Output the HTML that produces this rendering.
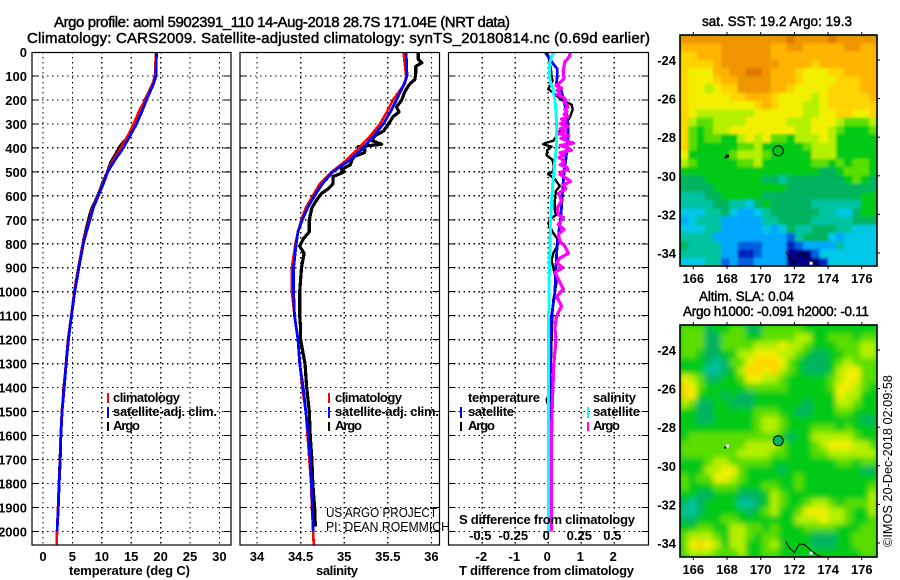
<!DOCTYPE html>
<html>
<head>
<meta charset="utf-8">
<title>Argo profile</title>
<style>
html,body{margin:0;padding:0;background:#fff;}
svg{display:block;}
text{font-family:"Liberation Sans",sans-serif;fill:#000;}
.b{font-weight:bold;font-size:13px;}
.t{font-size:15px;stroke:#000;stroke-width:.45px;}
.m{font-size:13.5px;stroke:#000;stroke-width:.45px;}
.r{font-size:13px;font-weight:normal;}
</style>
</head>
<body>
<svg id="chart" xmlns="http://www.w3.org/2000/svg" width="900" height="580" viewBox="0 0 900 580">
<defs>
<clipPath id="clip-map1"><rect x="680" y="35" width="197" height="231"/></clipPath>
<clipPath id="clip-map2"><rect x="680" y="325" width="197" height="232"/></clipPath>
<clipPath id="clip-p1"><rect x="32" y="52" width="199" height="493"/></clipPath>
<clipPath id="clip-p2"><rect x="240" y="52" width="200" height="493"/></clipPath>
<clipPath id="clip-p3"><rect x="448" y="52" width="200" height="493"/></clipPath>
<filter id="blur1" x="-5%" y="-5%" width="110%" height="110%"><feGaussianBlur stdDeviation="1.2"/></filter>
<filter id="blur2" x="-5%" y="-5%" width="110%" height="110%"><feGaussianBlur stdDeviation="3"/></filter>
</defs>

<text class="t" x="54" y="27" textLength="456" lengthAdjust="spacing">Argo profile: aoml 5902391_110 14-Aug-2018 28.7S 171.04E (NRT data)</text>
<text class="t" x="27" y="43" textLength="623" lengthAdjust="spacing">Climatology: CARS2009. Satellite-adjusted climatology: synTS_20180814.nc (0.69d earlier)</text>

<g id="p1"></g>
<g id="p2"></g>
<g id="p3"></g>
<g id="map1"></g>
<g id="map2"></g>

<text class="b" x="69" y="575" textLength="121" lengthAdjust="spacing">temperature (deg C)</text>
<text class="b" x="316" y="575" textLength="42" lengthAdjust="spacing">salinity</text>
<text class="b" x="459" y="575" textLength="175" lengthAdjust="spacing">T difference from climatology</text>
<text class="b" x="459" y="524" textLength="176" lengthAdjust="spacing">S difference from climatology</text>

<g>
<rect x="107" y="393" width="2" height="10" fill="#f00"/>
<text class="b" x="113" y="402" textLength="67" lengthAdjust="spacing">climatology</text>
<rect x="107" y="407" width="2" height="11" fill="#00f"/>
<text class="b" x="113" y="416" textLength="104" lengthAdjust="spacing">satellite-adj. clim.</text>
<rect x="107" y="422" width="2" height="9" fill="#000"/>
<text class="b" x="113" y="430" textLength="27" lengthAdjust="spacing">Argo</text>
</g>
<g>
<rect x="328" y="393" width="2" height="10" fill="#f00"/>
<text class="b" x="335" y="402" textLength="67" lengthAdjust="spacing">climatology</text>
<rect x="328" y="407" width="2" height="11" fill="#00f"/>
<text class="b" x="335" y="416" textLength="104" lengthAdjust="spacing">satellite-adj. clim.</text>
<rect x="328" y="422" width="2" height="9" fill="#000"/>
<text class="b" x="335" y="430" textLength="27" lengthAdjust="spacing">Argo</text>
</g>
<g>
<text class="b" x="468" y="402" textLength="72" lengthAdjust="spacing">temperature</text>
<rect x="460" y="407" width="2" height="11" fill="#00f"/>
<text class="b" x="468" y="416" textLength="46" lengthAdjust="spacing">satellite</text>
<rect x="460" y="422" width="2" height="9" fill="#000"/>
<text class="b" x="468" y="430" textLength="27" lengthAdjust="spacing">Argo</text>
<text class="b" x="593" y="402" textLength="43" lengthAdjust="spacing">salinity</text>
<rect x="587" y="407" width="2" height="11" fill="#0ff"/>
<text class="b" x="593" y="416" textLength="47" lengthAdjust="spacing">satellite</text>
<rect x="587" y="422" width="2" height="9" fill="#f0f"/>
<text class="b" x="593" y="430" textLength="27" lengthAdjust="spacing">Argo</text>
</g>

<text class="r" x="326" y="517" textLength="111" lengthAdjust="spacingAndGlyphs">US ARGO PROJECT</text>
<text class="r" x="326" y="531" textLength="124" lengthAdjust="spacingAndGlyphs">PI: DEAN ROEMMICH</text>

<text class="m" x="702" y="26" textLength="150" lengthAdjust="spacing">sat. SST: 19.2 Argo: 19.3</text>
<text class="m" x="699" y="301" textLength="95" lengthAdjust="spacing">Altim. SLA: 0.04</text>
<text class="m" x="683" y="316" textLength="186" lengthAdjust="spacing">Argo h1000: -0.091 h2000: -0.11</text>
<text class="r" transform="translate(892,547) rotate(-90)" textLength="172" lengthAdjust="spacingAndGlyphs">©IMOS 20-Dec-2018 02:09:58</text>
</svg>

<script>
// ---- profile data ----
const climDepth = [0,100,130,200,250,300,350,400,450,500,550,600,650,700,750,800,900,1000,1100,1200,1300,1400,1500,1600,1700,1800,1900,2000,2056];
const climT = [19.2,19.05,18.65,17.35,16.3,15.4,14.4,13.2,11.95,10.9,10.15,9.3,8.45,7.9,7.3,6.75,6.0,5.3,4.8,4.25,3.9,3.55,3.2,3.0,2.9,2.7,2.55,2.38,2.35];
const climS = [35.68,35.71,35.70,35.56,35.49,35.41,35.30,35.17,35.03,34.86,34.72,34.64,34.56,34.51,34.47,34.44,34.40,34.40,34.43,34.47,34.49,34.52,34.56,34.58,34.60,34.62,34.63,34.645,34.65];
const satDepth = [0,100,130,200,250,300,350,400,450,500,550,600,650,700,750,800,900,1000,1100,1200,1300,1400,1500,1600,1700,1800,1900,2000];
const satT = [19.3,19.2,18.85,17.6,16.8,15.9,14.8,13.65,12.25,11.0,10.25,9.4,8.55,8.0,7.4,6.85,6.1,5.4,4.85,4.3,3.95,3.6,3.25,3.05,2.95,2.75,2.6,2.4];
const satS = [35.71,35.72,35.69,35.60,35.53,35.45,35.34,35.22,35.07,34.87,34.75,34.66,34.58,34.52,34.47,34.45,34.42,34.42,34.43,34.47,34.49,34.53,34.56,34.59,34.61,34.625,34.635,34.645];
const argoTDepth = [0,100,130,170,200,240,270,300,330,360,385,400,430,460,500,540,580,620,650,680,730,780,850,900,1000,1100,1200,1300,1400,1500,1650,1800,1950];
const argoT = [19.3,19.1,18.7,17.9,17.3,16.7,16.1,15.7,15.0,14.2,13.3,12.9,12.2,11.5,10.9,10.2,9.6,8.9,8.3,7.9,7.4,6.9,6.4,6.1,5.4,4.85,4.35,3.95,3.5,3.25,2.95,2.7,2.5];
const argoSDepth = [0,30,45,60,90,115,130,150,170,200,230,250,270,300,330,350,370,385,395,410,420,435,450,470,490,500,510,520,550,570,590,620,650,700,750,780,810,840,900,950,1000,1050,1100,1150,1200,1300,1400,1500,1600,1700,1800,1900,1980];
const argoS = [35.85,35.85,35.89,35.82,35.82,35.81,35.76,35.72,35.69,35.66,35.60,35.63,35.56,35.51,35.45,35.35,35.32,35.43,35.16,35.24,35.23,35.12,35.09,35.07,34.97,35.0,34.94,34.87,34.87,34.82,34.74,34.68,34.63,34.60,34.60,34.53,34.49,34.54,34.51,34.50,34.49,34.49,34.49,34.50,34.50,34.55,34.57,34.60,34.61,34.63,34.64,34.66,34.67];

// ---- difference data ----
const diffSatTDepth = [0,20,50,70,100,130,150,200,250,300,350,400,450,500,550,600,650,700,800,900,1000,1100,1200,1300,1400,1500,1650,2000];
const diffSatT = [-0.10,0,0.15,0.27,0.27,0.25,0.37,0.47,0.54,0.60,0.60,0.57,0.53,0.48,0.45,0.42,0.40,0.37,0.27,0.23,0.20,0.10,0.07,0.07,0.05,0.04,0.03,0.03];
const diffSatSDepth = [0,20,50,100,130,150,200,250,300,350,400,450,500,550,600,650,700,800,900,1000,1100,2000];
const diffSatS = [0.043,0.025,0.008,0.008,0.018,0.033,0.05,0.058,0.063,0.063,0.061,0.05,0.043,0.033,0.028,0.023,0.018,0.013,0.008,0.005,0.003,0.002];
const diffArgoTDepth = [0,15,40,70,100,120,140,155,170,200,220,240,270,300,330,370,380,385,395,410,430,450,480,500,510,530,560,580,620,660,680,700,715,730,750,780,800,840,870,900,960,1000,1034,1100,1200,1300,1420,1450,1500,1652];
const diffArgoT = [-0.07,0,0.03,0.08,0.10,0.13,0.05,0,0.15,0.40,0.71,0.74,0.66,0.54,0.35,0.15,-0.10,-0.15,0.10,-0.03,-0.05,0.13,0.17,0.13,0,0.20,0.35,0.23,0.20,0.20,0.23,0.05,0,0.05,0.13,0.27,0.30,0.15,0.10,0.15,0.25,0.20,0.15,0.12,0.10,0.08,0.05,-0.05,0.05,0.03];
const diffArgoSDepth = [0,20,40,60,80,110,120,130,140,150,160,170,180,190,200,210,220,230,240,250,260,270,280,290,300,310,320,330,340,350,360,370,380,390,400,410,420,430,440,450,460,470,480,490,500,510,525,540,555,570,590,620,650,680,690,720,740,760,790,810,840,860,880,900,920,960,990,1020,1060,1100,1150,1200,1250,1300,1400,1500,1600,1800,2000];
const diffArgoS = [0.169,0.159,0.126,0.119,0.114,0.119,0.101,0.085,0.06,0.10,0.065,0.09,0.07,0.115,0.134,0.12,0.14,0.15,0.125,0.14,0.12,0.15,0.10,0.13,0.09,0.15,0.09,0.13,0.08,0.155,0.095,0.14,0.19,0.09,0.15,0.175,0.09,0.12,0.08,0.11,0.12,0.09,0.14,0.15,0.10,0.088,0.13,0.169,0.114,0.134,0.076,0.101,0.068,0.076,0.114,0.076,0.119,0.076,0.088,0.126,0.152,0.088,0.063,0.109,0.05,0.088,0.114,0.063,0.101,0.063,0.05,0.058,0.05,0.042,0.035,0.028,0.025,0.025,0.022];

// ---- axis ticks ----
const depthTicks = [0,100,200,300,400,500,600,700,800,900,1000,1100,1200,1300,1400,1500,1600,1700,1800,1900,2000];
const tempTicks = [0,5,10,15,20,25,30];
const salTicks = [34,34.5,35,35.5,36];
const salTickLabels = ['34','34.5','35','35.5','36'];
const tDiffTicks = [-2,-1,0,1,2];
const sDiffTicks = [-0.5,-0.25,0,0.25,0.5];
const sDiffTickLabels = ['-0.5','-0.25','0','0.25','0.5'];
const lonTicks = [166,168,170,172,174,176];
const latTicks = [-24,-26,-28,-30,-32,-34];

// ---- map data: colour-class level of each cell (24 cols × 28 rows, north to south) ----
const sstLevels = [
[13,13,13,13,13,13,13,13,13,13,13,13,13,14,13,13,13,13,14,13,13,13,13,13],
[12,12,12,12,12,13,13,13,13,13,13,12,12,13,13,12,12,12,12,12,13,13,12,12],
[11,11,12,12,12,13,13,13,13,13,13,12,12,12,12,12,12,12,12,12,12,12,12,12],
[11,11,11,11,12,13,13,13,13,13,13,13,12,12,12,12,11,12,12,12,12,12,12,12],
[11,10,10,10,12,12,13,13,14,14,13,12,12,12,11,10,10,10,11,11,12,12,12,12],
[11,10,10,10,11,12,12,13,13,13,13,12,12,12,11,10,10,10,10,11,11,11,12,12],
[11,10,10,9,10,11,11,13,13,13,13,12,12,11,10,10,10,10,11,11,11,11,12,12],
[11,10,10,10,10,10,11,11,12,12,12,11,10,10,10,10,9,10,11,11,11,11,11,12],
[11,10,10,10,10,10,10,10,10,11,12,11,10,10,10,9,9,10,11,11,11,11,11,11],
[11,10,9,9,9,9,9,9,9,10,10,10,10,10,10,9,9,10,10,11,11,10,10,11],
[11,9,8,8,9,9,9,9,10,10,10,10,10,9,9,9,10,10,10,9,8,8,8,9],
[11,8,7,8,9,9,10,10,10,10,10,10,10,10,9,9,10,10,9,8,7,7,7,8],
[11,8,7,8,8,7,7,9,10,9,10,8,8,7,9,9,9,10,9,7,7,7,7,7],
[11,8,7,7,7,7,7,8,8,9,7,7,7,7,7,8,9,9,9,7,7,7,7,7],
[10,7,7,7,7,7,8,9,9,9,8,7,7,7,7,7,9,9,9,7,7,7,7,7],
[9,8,7,7,7,7,7,8,8,9,7,7,7,7,7,7,8,8,7,8,7,8,8,7],
[7,7,7,7,7,7,7,7,7,7,7,7,7,7,7,7,7,6,6,7,8,8,8,7],
[6,6,6,7,7,7,7,7,7,7,6,6,5,6,6,6,6,6,6,6,7,8,7,6],
[6,6,6,6,7,7,7,7,7,7,7,7,7,6,6,6,6,6,6,6,6,6,6,6],
[5,5,5,6,6,7,7,7,7,7,6,6,6,6,6,6,6,6,6,6,6,6,7,7],
[5,5,5,5,6,6,5,5,4,6,7,6,6,6,6,6,5,5,5,5,5,5,7,7],
[4,4,4,5,5,6,4,3,3,4,5,6,6,6,6,6,6,5,5,4,4,6,7,7],
[3,4,5,5,5,3,3,3,3,3,5,5,6,6,6,6,5,5,5,5,5,6,6,6],
[4,4,4,5,5,3,3,3,3,3,4,3,4,6,5,5,6,6,6,5,5,4,4,4],
[5,5,5,5,3,3,3,3,3,3,3,3,3,2,5,6,6,6,4,3,4,4,4,4],
[6,5,5,5,5,3,3,2,2,2,3,3,3,1,2,3,3,3,3,5,4,4,4,4],
[5,5,5,5,5,3,3,1,1,2,3,3,3,0,0,0,2,4,4,4,4,4,4,4],
[4,4,4,5,5,2,3,2,2,3,3,3,3,0,0,0,0,1,4,4,4,4,4,4]
];
const slaLevels = [
[8,8,8,6,7,7,8,8,6,6,8,8,8,8,8,7,7,7,7,7,7,7,7,7],
[8,8,8,6,6,8,8,8,7,7,8,8,8,8,9,9,7,7,8,8,8,7,8,8],
[8,8,8,6,6,8,8,8,8,9,9,9,10,9,9,8,7,7,7,8,8,8,9,9],
[8,8,7,6,6,7,7,9,9,10,10,10,9,9,8,7,6,6,7,7,8,8,9,9],
[7,7,7,6,5,6,8,8,10,11,11,11,10,8,7,6,6,6,7,8,9,8,8,8],
[7,7,7,5,5,6,7,9,11,11,10,11,9,8,7,6,6,6,7,9,10,10,8,8],
[10,9,8,6,6,7,7,8,10,10,9,9,8,7,7,7,7,7,8,9,10,10,8,8],
[11,10,8,7,7,7,7,7,8,8,8,8,8,7,7,7,7,7,8,10,10,9,8,7],
[11,10,7,7,7,6,7,6,6,7,7,7,7,7,7,7,7,7,7,10,9,9,7,7],
[9,8,6,6,7,7,6,6,6,7,7,7,7,7,7,6,7,7,7,9,9,8,7,7],
[7,7,6,6,7,7,7,7,7,8,8,8,7,7,6,6,7,7,7,8,8,7,7,7],
[7,7,6,6,7,7,7,7,7,8,9,9,8,7,7,7,7,7,7,7,7,7,6,6],
[7,7,7,7,7,7,7,7,7,8,9,9,8,7,7,7,8,8,8,7,8,7,7,7],
[7,8,8,8,8,8,8,8,8,8,8,8,7,6,7,7,9,9,9,9,9,8,7,7],
[8,8,8,8,8,8,8,8,9,9,9,9,8,7,7,7,8,9,10,10,10,9,9,8],
[8,8,8,8,8,8,8,9,9,9,9,8,8,7,7,7,8,8,9,9,9,9,9,9],
[7,7,7,8,9,9,8,8,8,8,8,7,7,7,7,7,7,7,7,8,8,7,8,8],
[7,7,7,9,9,10,10,8,7,7,7,7,6,7,7,7,7,7,7,7,7,7,6,6],
[8,7,8,8,10,10,9,8,7,7,7,7,7,7,8,7,7,7,7,7,7,7,7,7],
[8,7,7,7,8,8,8,7,7,7,8,8,7,7,8,7,7,7,7,7,7,7,7,8],
[7,7,6,6,7,7,7,6,6,6,7,9,8,7,7,7,7,7,7,7,7,7,7,9],
[6,5,6,7,7,7,7,5,5,6,7,9,8,7,7,8,9,9,8,7,8,8,8,9],
[5,5,6,7,7,7,7,7,6,7,8,9,7,7,8,10,10,10,9,9,8,7,7,9],
[6,6,7,7,7,8,8,7,7,7,7,7,7,7,9,9,9,10,9,9,8,7,7,8],
[7,7,8,8,7,7,9,9,8,8,7,8,7,7,7,8,8,8,8,7,7,7,8,8],
[8,9,9,9,8,7,9,9,8,7,8,8,7,7,7,7,6,6,6,7,7,8,8,8],
[8,10,11,10,9,7,9,9,7,7,8,9,7,7,7,7,6,6,6,7,7,8,8,8],
[8,9,9,9,8,8,8,9,7,7,8,8,7,7,7,7,7,7,7,7,7,7,8,8]
];
const coastLon = [171.5,171.7,172.0,172.3,172.6,173.0,173.4,173.7];
const coastLat = [-33.93,-34.25,-34.5,-34.05,-34.08,-34.4,-34.65,-34.72];
const floatLon = 171.04;
const floatLat = -28.7;

// ---- drawing ----
const SVGNS = 'http://www.w3.org/2000/svg';
const levelColors = ['#00008c','#0020c0','#0060e0','#00a8ff','#00c8e6','#00c3a0','#00b45f','#00ca14','#5ade00','#b4f000','#f2f000','#ffd400','#ffb400','#f09600','#e07800'];
const TOP = 52, BOTTOM = 545;
const yDepth = d => 52 + 0.2397 * d;
const xTemp = t => 43 + 5.88 * t;
const xSal = s => 257 + 87.2 * (s - 34);
const xTDiff = t => 548.3 + 33 * t;
const xSDiff = s => 548.3 + 132 * s;
const xLon = lon => 693.3 + 16.85 * (lon - 166);

function make(tag, parent, attrs, name) {
  const el = document.createElementNS(SVGNS, tag);
  for (const k in attrs) el.setAttribute(k, attrs[k]);
  
  
  parent.appendChild(el);
  return el;
}
function label(parent, x, y, str, anchor, name) {
  const el = make('text', parent, {x: x, y: y, 'text-anchor': anchor, class: 'b'}, name);
  el.textContent = str;
  return el;
}
function profile(parent, depths, vals, xFn, color, width, name) {
  const pts = depths.map((d, i) => xFn(vals[i]).toFixed(1) + ',' + yDepth(d).toFixed(1)).join(' ');
  make('polyline', parent, {points: pts, fill: 'none', stroke: color, 'stroke-width': width, 'stroke-linejoin': 'round', 'shape-rendering': 'crispEdges'}, name);
}
function frame(parent, x0, x1) {
  make('rect', parent, {x: x0, y: TOP + 0.5, width: x1 - x0, height: BOTTOM - TOP - 0.5, fill: 'none', stroke: '#000', 'stroke-width': 1.2}, 'plot-frame');
}
function grid(parent, x0, x1, xTicks, xFn) {
  depthTicks.forEach(d => {
    const y = yDepth(d);
    if (d > 0) {
      make('line', parent, {x1: x0, x2: x1, y1: y, y2: y, stroke: '#000', 'stroke-width': 1.3, 'stroke-dasharray': '1.4 3.6', 'shape-rendering': 'crispEdges'}, 'depth-gridline');
      make('line', parent, {x1: x0, x2: x0 + 7, y1: y, y2: y, stroke: '#000', 'stroke-width': 1, 'shape-rendering': 'crispEdges'}, 'depth-tick-left');
      make('line', parent, {x1: x1 - 7, x2: x1, y1: y, y2: y, stroke: '#000', 'stroke-width': 1, 'shape-rendering': 'crispEdges'}, 'depth-tick-right');
    }
  });
  xTicks.forEach(v => {
    const x = xFn(v);
    make('line', parent, {x1: x, x2: x, y1: TOP, y2: BOTTOM, stroke: '#000', 'stroke-width': 1.3, 'stroke-dasharray': '1.4 3.6', 'shape-rendering': 'crispEdges'}, 'value-gridline');
  });
}

// temperature panel
const p1 = document.getElementById('p1');
grid(p1, 32, 231, tempTicks, xTemp);
const g1 = make('g', p1, {'clip-path': 'url(#clip-p1)'}, 'temperature-series');
profile(g1, argoTDepth, argoT, xTemp, '#000', 2.6, 'argo-temperature-line');
profile(g1, climDepth, climT, xTemp, '#f00', 2.6, 'climatology-temperature-line');
profile(g1, satDepth, satT, xTemp, '#00f', 2.8, 'satellite-temperature-line');
frame(p1, 32, 231);
depthTicks.forEach(d => label(p1, 27, yDepth(d) + 5, String(d), 'end', 'depth-tick-label'));
tempTicks.forEach(t => label(p1, xTemp(t), 561, String(t), 'middle', 'temperature-tick-label'));

// salinity panel
const p2 = document.getElementById('p2');
grid(p2, 240, 439.5, salTicks, xSal);
const g2 = make('g', p2, {'clip-path': 'url(#clip-p2)'}, 'salinity-series');
profile(g2, argoSDepth, argoS, xSal, '#000', 3.2, 'argo-salinity-line');
profile(g2, climDepth, climS, xSal, '#f00', 2.6, 'climatology-salinity-line');
profile(g2, satDepth, satS, xSal, '#00f', 2.8, 'satellite-salinity-line');
frame(p2, 240, 439.5);
salTicks.forEach((s, i) => label(p2, xSal(s), 561, salTickLabels[i], 'middle', 'salinity-tick-label'));

// difference panel
const p3 = document.getElementById('p3');
grid(p3, 448.5, 648.5, tDiffTicks, xTDiff);
const g3 = make('g', p3, {'clip-path': 'url(#clip-p3)'}, 'difference-series');
profile(g3, diffArgoTDepth, diffArgoT, xTDiff, '#000', 2.4, 'argo-t-difference-line');
profile(g3, diffSatTDepth, diffSatT, xTDiff, '#00f', 2.8, 'satellite-t-difference-line');
profile(g3, diffArgoSDepth, diffArgoS, xSDiff, '#f0f', 3.2, 'argo-s-difference-line');
profile(g3, diffSatSDepth, diffSatS, xSDiff, '#0ff', 3, 'satellite-s-difference-line');
frame(p3, 448.5, 648.5);
tDiffTicks.forEach(t => label(p3, xTDiff(t) - 1, 561, String(t), 'middle', 't-difference-tick-label'));
sDiffTicks.forEach((s, i) => label(p3, xSDiff(s) - 2, 540, sDiffTickLabels[i], 'middle', 's-difference-tick-label'));

// maps
function drawMap(id, levels, top, bottom, lat24y, filterId, clipId, filled, bg) {
  const root = document.getElementById(id);
  const yLat = lat => lat24y + 19.3 * (-24 - lat);
  make('rect', root, {x: 680, y: top, width: 197, height: bottom - top, fill: bg}, 'map-background');
  const clip = make('g', root, {'clip-path': 'url(#' + clipId + ')'}, 'map-clip');
  const cells = make('g', clip, {filter: 'url(#' + filterId + ')'}, 'map-cells');
  const rows = levels.length, cols = levels[0].length;
  const cw = 197 / cols, ch = (bottom - top) / rows;
  levels.forEach((row, r) => row.forEach((v, c) => {
    make('rect', cells, {x: (680 + c * cw).toFixed(2), y: (top + r * ch).toFixed(2), width: (cw + 0.4).toFixed(2), height: (ch + 0.4).toFixed(2), fill: levelColors[v], 'shape-rendering': 'crispEdges'}, 'map-cell');
  }));
  const coastPts = coastLon.map((lon, i) => xLon(lon).toFixed(1) + ',' + yLat(coastLat[i]).toFixed(1)).join(' ');
  make('polyline', clip, {points: coastPts, fill: 'none', stroke: '#000', 'stroke-width': 1}, 'coastline');
  make('rect', clip, {x: xLon(172.9), y: yLat(-34.45), width: 3, height: 3, fill: '#fff'}, 'island-mask');
  make('rect', clip, {x: xLon(167.9) + 0.5, y: yLat(-28.95) - 1, width: 3, height: 3, fill: filled ? '#fff' : '#000'}, 'island-mark');
  make('rect', clip, {x: xLon(167.9) - 1, y: yLat(-28.95) + 1, width: 2, height: 2, fill: '#000'}, 'island-mark');
  make('circle', root, {cx: xLon(floatLon), cy: yLat(floatLat), r: 5, fill: filled ? '#00b45f' : 'none', stroke: '#000', 'stroke-width': 1}, 'float-position-marker');
  make('rect', root, {x: 680, y: top, width: 197, height: bottom - top, fill: 'none', stroke: '#000', 'stroke-width': 1.6}, 'map-frame');
  lonTicks.forEach(lon => {
    const x = xLon(lon);
    make('line', root, {x1: x, x2: x, y1: top - 3, y2: top, stroke: '#000', 'stroke-width': 1}, 'longitude-tick-top');
    make('line', root, {x1: x, x2: x, y1: bottom, y2: bottom + 3, stroke: '#000', 'stroke-width': 1}, 'longitude-tick-bottom');
    label(root, x, bottom + 17, String(lon), 'middle', 'longitude-tick-label');
  });
  latTicks.forEach(lat => {
    const y = yLat(lat);
    make('line', root, {x1: 877, x2: 880, y1: y, y2: y, stroke: '#000', 'stroke-width': 1}, 'latitude-tick-right');
    label(root, 676, y + 5, String(lat), 'end', 'latitude-tick-label');
  });
}
drawMap('map1', sstLevels, 35, 266, 60, 'blur1', 'clip-map1', false, '#00ca14');
drawMap('map2', slaLevels, 325, 557, 350, 'blur2', 'clip-map2', true, '#00ca14');
</script>
</body>
</html>
